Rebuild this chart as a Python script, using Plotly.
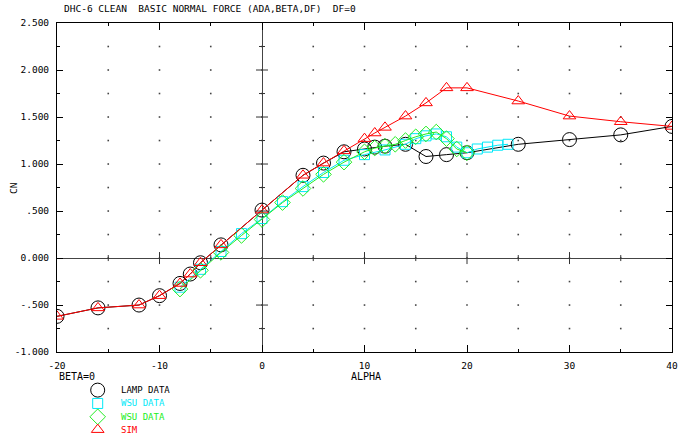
import numpy as np
import plotly.graph_objects as go

# ---------------- data ----------------
lamp_alpha = [-20, -16, -12, -10, -8, -7, -6, -4, 0, 4, 6, 8, 10, 11, 12, 14, 16, 18, 20, 25, 30, 35, 40]
lamp_cn = [-0.62, -0.53, -0.50, -0.40, -0.27, -0.17, -0.05, 0.14, 0.51, 0.88, 1.01, 1.13, 1.16, 1.18, 1.19,
           1.21, 1.08, 1.10, 1.12, 1.21, 1.26, 1.31, 1.40]

wsu1_alpha = [-8, -6, -4, -2, 0, 2, 4, 6, 8, 10, 12, 14, 15, 16, 17, 18, 19, 20, 21, 22, 23, 24]
wsu1_cn = [-0.31, -0.12, 0.07, 0.26, 0.42, 0.60, 0.76, 0.91, 1.04, 1.10, 1.15, 1.21, 1.27, 1.30, 1.32,
           1.29, 1.18, 1.12, 1.16, 1.18, 1.20, 1.21]

wsu2_alpha = [-8, -6, -4, -2, 0, 2, 4, 6, 8, 10, 11, 12, 13, 14, 15, 16, 17, 18, 19, 20]
wsu2_cn = [-0.33, -0.13, 0.06, 0.24, 0.41, 0.59, 0.74, 0.89, 1.02, 1.13, 1.17, 1.19, 1.21, 1.25, 1.29,
           1.32, 1.34, 1.27, 1.16, 1.12]

sim_alpha = [-20, -16, -12, -10, -8, -7, -6, -4, 0, 4, 6, 8, 10, 11, 12, 14, 16, 18, 20, 25, 30, 35, 40]
sim_cn = [-0.62, -0.53, -0.50, -0.40, -0.27, -0.17, -0.05, 0.14, 0.51, 0.88, 1.01, 1.14, 1.27, 1.33, 1.39,
          1.51, 1.65, 1.81, 1.81, 1.67, 1.51, 1.45, 1.40]

x_tickvals = [-20, -10, 0, 10, 20, 30, 40]
x_ticktext = ["-20", "-10", "0", "10", "20", "30", "40"]
y_tickvals = [-1.0, -0.5, 0.0, 0.5, 1.0, 1.5, 2.0, 2.5]
y_ticktext = ["-1.000", "-.500", "0.000", ".500", "1.000", "1.500", "2.000", "2.500"]

series_names = ["LAMP DATA", "WSU DATA", "WSU DATA", "SIM"]
series_colors = ["#000000", "#00e8f8", "#22ee22", "#ff0000"]
series_symbols = ["circle-open", "square-open", "diamond-open", "triangle-up-open"]
series_sizes = [14, 10, 12, 11]

title_text = "DHC-6 CLEAN  BASIC NORMAL FORCE (ADA,BETA,DF)  DF=0"

# ---------------- layout helpers ----------------
W, H = 686, 447
L, R, T, B = 57, 14, 23, 0
PW, PH = W - L - R, H - T - B
FONT = "DejaVu Sans Mono"


def pxx(x):
    return (x - L) / PW


def pxy(y):
    return (H - B - y) / PH


fig = go.Figure()

# grid dots
gx, gy = np.meshgrid(np.arange(-15, 40, 5), np.arange(-0.75, 2.5, 0.25))
fig.add_trace(go.Scatter(x=gx.ravel(), y=gy.ravel(), mode="markers",
                         marker=dict(size=1.6, color="#444", symbol="square"),
                         hoverinfo="skip", showlegend=False))

all_x = [lamp_alpha, wsu1_alpha, wsu2_alpha, sim_alpha]
all_y = [lamp_cn, wsu1_cn, wsu2_cn, sim_cn]
for xs, ys, nm, c, s, sz in zip(all_x, all_y, series_names, series_colors, series_symbols, series_sizes):
    fig.add_trace(go.Scatter(x=xs, y=ys, mode="lines+markers", name=nm,
                             line=dict(color=c, width=1),
                             marker=dict(symbol=s, size=sz, color=c, line=dict(width=1, color=c)),
                             showlegend=False))

# custom legend below the plot (legend axis: values = pixels from top)
leg_marker_x = 97.7
leg_text_x = 119
leg_rows = [394.5, 408, 421.5, 434.5]
for nm, c, s, sz, ry in zip(series_names, series_colors, series_symbols, series_sizes, leg_rows):
    fig.add_trace(go.Scatter(x=[leg_marker_x], y=[ry], mode="markers", xaxis="x2", yaxis="y2",
                             marker=dict(symbol=s, size=sz, color=c, line=dict(width=1, color=c)),
                             hoverinfo="skip", showlegend=False))
    fig.add_annotation(x=leg_text_x, y=ry, xref="x2", yref="y2", text=nm, showarrow=False,
                       xanchor="left", yanchor="middle", font=dict(family=FONT, size=9, color=c))

# crossing ticks on the zero lines
shapes = []
for v in np.arange(-15, 40, 5):
    if v == 0:
        continue
    h = 6 if v % 10 == 0 else 3
    shapes.append(dict(type="line", xref="x", yref="y", x0=v, x1=v, ysizemode="pixel", yanchor=0,
                       y0=-h, y1=h, line=dict(color="#333", width=1)))
for v in np.arange(-0.75, 2.5, 0.25):
    if abs(v) < 1e-9:
        continue
    h = 6 if abs(v * 2 - round(v * 2)) < 1e-9 else 3
    shapes.append(dict(type="line", xref="x", yref="y", y0=v, y1=v, xsizemode="pixel", xanchor=0,
                       x0=-h, x1=h, line=dict(color="#333", width=1)))

y_dom0 = pxy(356)
leg_dom_top = pxy(365)

fig.update_layout(
    width=W, height=H,
    margin=dict(l=L, r=R, t=T, b=B, pad=0),
    paper_bgcolor="white", plot_bgcolor="white",
    font=dict(family=FONT, size=9.5, color="black"),
    shapes=shapes,
    xaxis=dict(domain=[0, 1], range=[-20, 40], tickmode="array", tickvals=x_tickvals, ticktext=x_ticktext,
               ticks="inside", ticklen=7, tickcolor="black", showline=True, linecolor="black", linewidth=1,
               mirror="ticks", showgrid=False, zeroline=True, zerolinecolor="#444", zerolinewidth=1,
               minor=dict(dtick=5, tick0=0, ticks="inside", ticklen=3, tickcolor="black", showgrid=False),
               tickfont=dict(family=FONT, size=9.5), ticklabelstandoff=5, fixedrange=True),
    yaxis=dict(domain=[y_dom0, 1], range=[-1, 2.5], tickmode="array", tickvals=y_tickvals, ticktext=y_ticktext,
               ticks="inside", ticklen=6, tickcolor="black", showline=True, linecolor="black", linewidth=1,
               mirror="ticks", showgrid=False, zeroline=True, zerolinecolor="#444", zerolinewidth=1,
               minor=dict(dtick=0.25, tick0=0, ticks="inside", ticklen=3, tickcolor="black", showgrid=False),
               tickfont=dict(family=FONT, size=9.5), ticklabelstandoff=5, fixedrange=True),
    xaxis2=dict(domain=[0, 0.4], range=[L, L + 0.4 * PW], visible=False, fixedrange=True, anchor="y2"),
    yaxis2=dict(domain=[0, leg_dom_top], range=[H, 365], visible=False, fixedrange=True, anchor="x2"),
    showlegend=False,
)

# texts
fig.add_annotation(x=pxx(62), y=pxy(8), xref="paper", yref="paper", text=title_text, showarrow=False,
                   xanchor="left", yanchor="middle", font=dict(family=FONT, size=9.5))
fig.add_annotation(x=pxx(13), y=pxy(190), xref="paper", yref="paper", text="CN", showarrow=False,
                   textangle=-90, xanchor="center", yanchor="middle", font=dict(family=FONT, size=9.5))
fig.add_annotation(x=pxx(366), y=pxy(381), xref="paper", yref="paper", text="ALPHA", showarrow=False,
                   xanchor="center", yanchor="middle", font=dict(family=FONT, size=10))
fig.add_annotation(x=pxx(57), y=pxy(381), xref="paper", yref="paper", text="BETA=0", showarrow=False,
                   xanchor="left", yanchor="middle", font=dict(family=FONT, size=10))

fig.write_html("out.html")
